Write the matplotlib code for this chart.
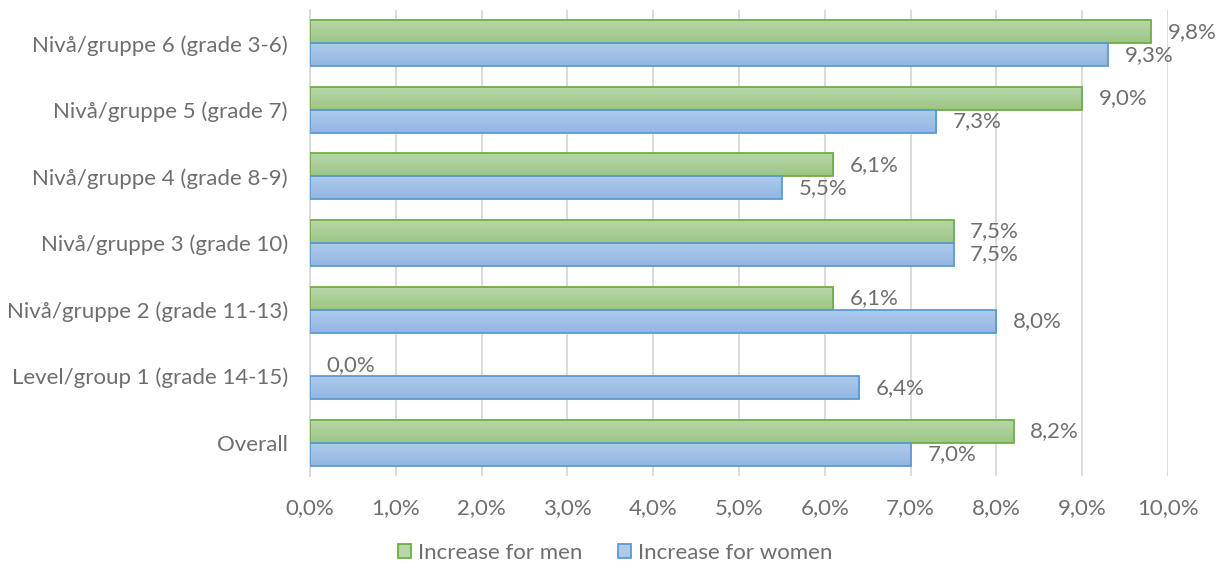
import matplotlib
matplotlib.use("Agg")
import matplotlib.pyplot as plt
import numpy as np
from matplotlib.colors import LinearSegmentedColormap
from matplotlib.patches import Rectangle

categories = ["Overall", "Level/group 1 (grade 14-15)", "Nivå/gruppe 2 (grade 11-13)",
              "Nivå/gruppe 3 (grade 10)", "Nivå/gruppe 4 (grade 8-9)",
              "Nivå/gruppe 5 (grade 7)", "Nivå/gruppe 6 (grade 3-6)"]
men = [8.2, 0.0, 6.1, 7.5, 6.1, 9.0, 9.8]
women = [7.0, 6.4, 8.0, 7.5, 5.5, 7.3, 9.3]
xticks = [0, 1, 2, 3, 4, 5, 6, 7, 8, 9, 10]
series_names = ["Increase for men", "Increase for women"]

plt.rcParams['font.family'] = ['Lato', 'DejaVu Sans']
TXT = '#6e6e6e'
FS = 16

fig = plt.figure(figsize=(12.26, 5.72), dpi=100)
ax = fig.add_axes([310/1226, 1-476/572, (1168-310)/1226, (476-10)/572])

h = 0.345
y = np.arange(len(categories))
styles = [
    dict(edge='#70ad47', top='#b6d7a8', bot='#9dc686'),
    dict(edge='#5b9bd5', top='#aecaeb', bot='#93b6e2'),
]
offs = [h/2, -h/2]
for vals, st, off in zip([men, women], styles, offs):
    bars = ax.barh(y + off, vals, height=h, color='none', edgecolor=st['edge'], linewidth=1.3, zorder=3)
    cmap = LinearSegmentedColormap.from_list('g', [st['bot'], st['top']])
    for b in bars:
        x0, y0 = b.get_x(), b.get_y()
        w, hh = b.get_width(), b.get_height()
        if w > 0:
            im = ax.imshow(np.linspace(0, 1, 50).reshape(-1, 1), cmap=cmap, aspect='auto',
                           extent=(x0, x0 + w, y0, y0 + hh), origin='lower', zorder=2)
            im.set_clip_path(b)
        else:
            b.set_linewidth(0)
    for yi, v in zip(y + off, vals):
        ax.annotate(f"{v:.1f}%".replace('.', ','), xy=(v, yi), xytext=(12, 0),
                    textcoords='offset points', va='center', ha='left', fontsize=FS, color=TXT, zorder=4)

ax.set_xlim(0, 10)
ax.set_ylim(-0.5, len(categories) - 0.5)
ax.set_xticks(xticks)
ax.set_xticklabels([f"{t:.1f}%".replace('.', ',') for t in xticks])
ax.set_yticks(y)
ax.set_yticklabels(categories)
ax.tick_params(axis='both', length=0, labelsize=FS, colors=TXT)
ax.tick_params(axis='x', pad=16)
ax.tick_params(axis='y', pad=16)
ax.grid(axis='x', color='#d9d9d9', linewidth=1.3, zorder=0)
ax.set_axisbelow(True)
for s in ['top', 'right', 'bottom']:
    ax.spines[s].set_visible(False)
ax.spines['left'].set_color('#d9d9d9')
ax.spines['left'].set_linewidth(1.3)

handles = [Rectangle((0, 0), 1, 1, facecolor=(styles[0]['top']), edgecolor=styles[0]['edge'], linewidth=1.3),
           Rectangle((0, 0), 1, 1, facecolor=(styles[1]['top']), edgecolor=styles[1]['edge'], linewidth=1.3)]
leg = fig.legend(handles, series_names, loc='center', bbox_to_anchor=(615/1226, 1-553/572), ncol=2,
                 frameon=False, fontsize=FS, handlelength=0.6, handleheight=0.6, handletextpad=0.3,
                 columnspacing=1.6, labelcolor=TXT)

fig.savefig('out.png', dpi=100)
